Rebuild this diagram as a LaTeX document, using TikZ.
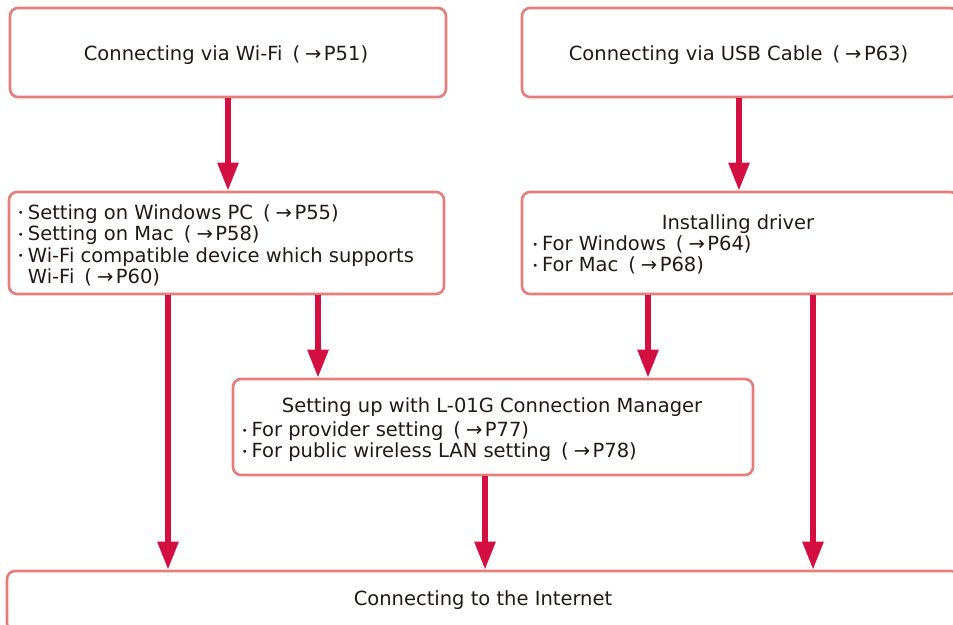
\documentclass[tikz,border=0pt]{standalone}
\usepackage{fontspec}
\setmainfont{DejaVu Sans}
\usetikzlibrary{arrows.meta}
\definecolor{boxred}{HTML}{E57E7A}
\definecolor{arrred}{HTML}{D20F40}
\definecolor{txtgray}{HTML}{231815}
\newcommand\mybul{\makebox[14pt][c]{\raisebox{2.3pt}{\fontsize{10pt}{10pt}\selectfont •}}}
\newcommand\pg[1]{\hspace{10pt}(\kern5pt→\kern2.5pt#1)}
\tikzset{
  box/.style={draw=boxred, line width=2.6pt, rounded corners=8pt, inner sep=0pt},
  txt/.style={inner sep=0pt, text=txtgray, font=\fontsize{19.5pt}{21pt}\selectfont},
  arr/.style={draw=arrred, line width=5.5pt, -{Triangle[width=20pt,length=28pt]}, arrred}
}
\begin{document}
\begin{tikzpicture}[x=1pt,y=1pt]
\useasboundingbox (0,0) rectangle (953,-624);
% boxes
\node[box, minimum width=436pt, minimum height=89pt] (b1) at (228,-52.5) {};
\node[box, minimum width=436pt, minimum height=89pt] (b2) at (740,-52.5) {};
\node[box, minimum width=435pt, minimum height=102pt] (b3) at (226.5,-243) {};
\node[box, minimum width=436pt, minimum height=102pt] (b4) at (740,-243) {};
\node[box, minimum width=520pt, minimum height=96pt] (b5) at (493,-427) {};
\node[box, minimum width=952pt, minimum height=60pt] (b6) at (483,-601) {};
% texts
\node[txt, anchor=base] (t1) at (226,-60) {Connecting via Wi-Fi\pg{P51}};
\node[txt, anchor=base] (t2) at (738.5,-60) {Connecting via USB Cable\pg{P63}};
\node[txt, anchor=base west] (t31) at (13.7,-219) {\mybul Setting on Windows PC\pg{P55}};
\node[txt, anchor=base west] (t32) at (13.7,-240.7) {\mybul Setting on Mac\pg{P58}};
\node[txt, anchor=base west] (t33) at (13.7,-262) {\mybul Wi-Fi compatible device which supports};
\node[txt, anchor=base west] (t34) at (13.7,-283.3) {\hspace{14pt}Wi-Fi\pg{P60}};
\node[txt, anchor=base] (t41) at (738,-229) {Installing driver};
\node[txt, anchor=base west] (t42) at (528,-250.7) {\mybul For Windows\pg{P64}};
\node[txt, anchor=base west] (t43) at (528,-271.7) {\mybul For Mac\pg{P68}};
\node[txt, anchor=base] (t51) at (492,-412) {Setting up with L-01G Connection Manager};
\node[txt, anchor=base west] (t52) at (237.5,-436.5) {\mybul For provider setting\pg{P77}};
\node[txt, anchor=base west] (t53) at (237.5,-457.3) {\mybul For public wireless LAN setting\pg{P78}};
\node[txt, anchor=base] (t6) at (483,-605.7) {Connecting to the Internet};
% arrow columns
\coordinate (c1) at (228,0);
\coordinate (c2) at (739,0);
\coordinate (c3) at (168,0);
\coordinate (c4) at (318,0);
\coordinate (c5) at (648,0);
\coordinate (c6) at (813,0);
\coordinate (c7) at (485,0);
% arrows
\draw[arr] (b1.south -| c1) -- (b3.north -| c1);
\draw[arr] (b2.south -| c2) -- (b4.north -| c2);
\draw[arr] (b3.south -| c3) -- (b6.north -| c3);
\draw[arr] (b3.south -| c4) -- (b5.north -| c4);
\draw[arr] (b4.south -| c5) -- (b5.north -| c5);
\draw[arr] (b4.south -| c6) -- (b6.north -| c6);
\draw[arr] (b5.south -| c7) -- (b6.north -| c7);
\end{tikzpicture}
\end{document}
